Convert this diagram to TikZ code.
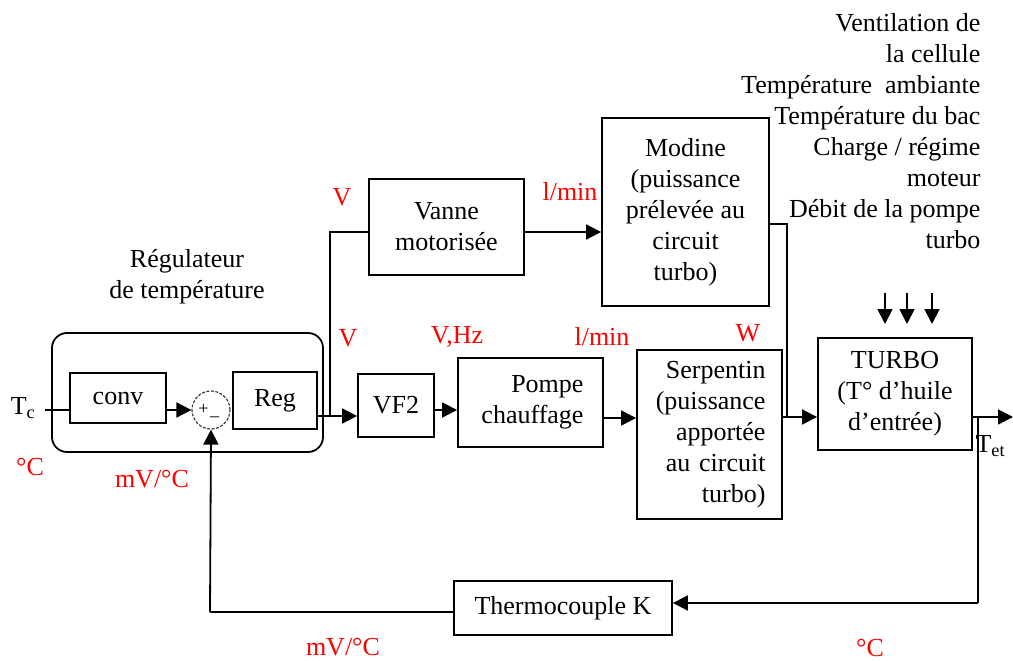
\documentclass[tikz,border=0pt]{standalone}
\usepackage{fontspec}
\setmainfont{Liberation Serif}
\usetikzlibrary{arrows.meta}
\begin{document}
\begin{tikzpicture}[x=1pt,y=-1pt,
  every node/.style={font=\fontsize{26}{31}\selectfont},
  blk/.style={draw, line width=1.8pt, inner sep=0pt, align=center},
  ln/.style={line width=1.8pt},
  arr/.style={line width=1.8pt, -{Triangle[length=15pt,width=15pt]}},
  unit/.style={text=red}]
\useasboundingbox (0,0) rectangle (1013,661);
\clip (0,0) rectangle (1013,661);

% blocks
\node[blk, rounded corners=15pt, minimum width=271pt, minimum height=119pt] (regbox) at (187.5,392.5) {};
\node[blk, minimum width=96pt, minimum height=50pt] (conv) at (118,398) {conv};
\node[draw=black!75, dashed, dash pattern=on 3pt off 1.5pt, line width=1.2pt, circle, minimum size=38pt, inner sep=0pt] (sum) at (211,410) {};
\node[font=\fontsize{18}{18}\selectfont, inner sep=0pt] (plus) at (203.5,409) {+};
\node[font=\fontsize{18}{18}\selectfont, inner sep=0pt] (minus) at (214.5,419) {–};
\node[blk, minimum width=84pt, minimum height=57pt] (reg) at (275,400.5) {Reg};
\node[blk, minimum width=76pt, minimum height=63pt] (vf2) at (396,405.5) {VF2};
\node[blk, minimum width=145pt, minimum height=89pt, text width=106pt, align=right] (pompe) at (530.5,402.5) {Pompe\\chauffage};
\node[blk, minimum width=155pt, minimum height=96pt] (vanne) at (446.5,227) {Vanne\\motorisée};
\node[blk, minimum width=167pt, minimum height=188pt] (modine) at (685.5,212) {Modine\\(puissance\\prélevée au\\circuit\\turbo)};
\node[blk, minimum width=145pt, minimum height=169pt, text width=112pt, align=right] (serp) at (709.5,434.5) {Serpentin\\(puissance\\apportée\\au circuit\\turbo)};
\node[blk, minimum width=154pt, minimum height=112pt] (turbo) at (895,394) {TURBO\\(T° d’huile\\d’entrée)};
\node[blk, minimum width=218pt, minimum height=54pt] (thermo) at (563,608) {Thermocouple K};

% helper coordinates
\coordinate (tcin) at (45,410);
\coordinate (split) at (330,416);
\coordinate (mjoin) at (787,417);
\coordinate (fb) at (978,417);
\coordinate (outend) at (1013,417);
\coordinate (fbdown) at (978,603);
\coordinate (fbleft) at (210,612);
\coordinate (yv) at (0,232);
\coordinate (ym) at (0,224);
\coordinate (yp) at (0,410);
\coordinate (ys) at (0,418);
\coordinate (yt) at (0,417);
\coordinate (yth) at (0,612);
\coordinate (d1s) at (885,293); \coordinate (d1e) at (885,324);
\coordinate (d2s) at (907,293); \coordinate (d2e) at (907,324);
\coordinate (d3s) at (932,293); \coordinate (d3e) at (932,324);

% connectors
\draw[ln] (tcin) -- (tcin -| conv.west);
\draw[arr] (conv.east |- sum) -- (sum.west);
\draw[ln] (reg.east |- split) -- (split);
\draw[arr] (split) -- (split -| vf2.west);
\draw[ln] (split) |- (vanne.west |- yv);
\draw[arr] (vanne.east |- yv) -- (modine.west |- yv);
\draw[ln] (modine.east |- ym) -| (mjoin);
\draw[arr] (vf2.east |- yp) -- (pompe.west |- yp);
\draw[arr] (pompe.east |- ys) -- (serp.west |- ys);
\draw[arr] (serp.east |- yt) -- (turbo.west |- yt);
\draw[arr] (turbo.east |- yt) -- (outend);
\draw[ln] (fb) -- (fbdown);
\draw[arr] (fbdown) -- (thermo.east |- fbdown);
\draw[ln] (thermo.west |- yth) -- (fbleft);
\draw[arr] (fbleft) -- (sum.south);
\draw[arr] (d1s) -- (d1e);
\draw[arr] (d2s) -- (d2e);
\draw[arr] (d3s) -- (d3e);

% texts
\node (tc) at (23,408) {T\textsubscript{c}};
\node[anchor=west] (tet) at (972,446) {T\textsubscript{et}};
\node[align=center] (reglab) at (187,277) {Régulateur\\de température};
\node[align=right, anchor=east] (dist) at (984,131) {Ventilation de\\la cellule\\Température~ ambiante\\Température du bac\\Charge / régime\\moteur\\Débit de la pompe\\turbo};

% units
\node[unit] (u1) at (342,197) {V};
\node[unit] (u2) at (570,192) {l/min};
\node[unit] (u3) at (348,338) {V};
\node[unit] (u4) at (457,337) {V,Hz};
\node[unit] (u5) at (602,337) {l/min};
\node[unit] (u6) at (748,333) {W};
\node[unit] (u7) at (30,467) {°C};
\node[unit] (u8) at (152,479) {mV/°C};
\node[unit] (u9) at (343,647) {mV/°C};
\node[unit] (u10) at (870,648) {°C};
\end{tikzpicture}
\end{document}
